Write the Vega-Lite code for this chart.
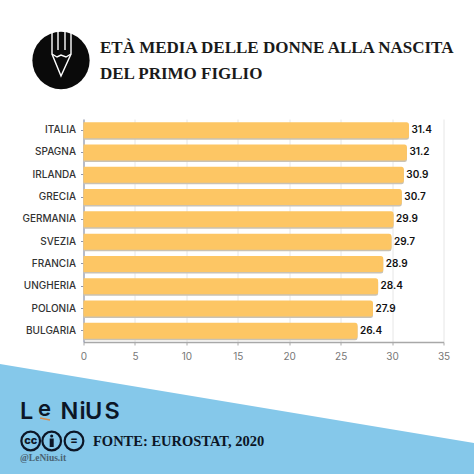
{"$schema":"https://vega.github.io/schema/vega-lite/v6.json","width":360,"height":223,"autosize":"none","padding":{"left":83.5,"top":119,"right":30.5,"bottom":132},"background":"#ffffff","title":{"text":["ETÀ MEDIA DELLE DONNE ALLA NASCITA","DEL PRIMO FIGLIO"],"anchor":"start","frame":"group","dx":16.5,"offset":-67,"baseline":"alphabetic","font":"Liberation Serif","fontSize":17,"fontWeight":"bold","color":"#1a1a1a","lineHeight":26.5},"config":{"view":{"stroke":null}},"resolve":{"scale":{"x":"independent","y":"independent"}},"layer":[{"encoding":{"x":{"field":"px","type":"quantitative","scale":{"domain":[83.5,443.5],"clamp":false,"nice":false,"zero":false},"axis":null},"y":{"field":"py","type":"quantitative","scale":{"domain":[342,119],"clamp":false,"nice":false,"zero":false},"axis":null}},"layer":[{"data":{"values":[{"px":0,"py":364,"bottom":474},{"px":474,"py":443,"bottom":474}]},"mark":{"type":"area","color":"#85C8EA","clip":false},"encoding":{"y2":{"field":"bottom"}}},{"data":{"values":[{"px":61,"py":60.5}]},"mark":{"type":"point","filled":true,"color":"#0a0a0a","size":3280,"opacity":1}},{"data":{"values":[{"g":"a","o":1,"px":52,"py":32},{"g":"a","o":2,"px":52,"py":54},{"g":"a","o":3,"px":61,"py":76},{"g":"a","o":4,"px":71,"py":54},{"g":"a","o":5,"px":71,"py":32},{"g":"b","o":1,"px":52,"py":54},{"g":"b","o":2,"px":57,"py":57},{"g":"b","o":3,"px":61,"py":55},{"g":"b","o":4,"px":66,"py":57},{"g":"b","o":5,"px":71,"py":54},{"g":"c","o":1,"px":58,"py":32},{"g":"c","o":2,"px":58,"py":50},{"g":"d","o":1,"px":65,"py":32},{"g":"d","o":2,"px":65,"py":50}]},"mark":{"type":"line","color":"#ffffff","strokeWidth":1.4},"encoding":{"detail":{"field":"g"},"order":{"field":"o"}}},{"data":{"values":[{"px":40,"py":418,"ex":50,"ey":420}]},"mark":{"type":"rule","color":"#d98a4b","strokeWidth":1.5},"encoding":{"x2":{"field":"ex"},"y2":{"field":"ey"}}},{"data":{"values":[{"t":"L","px":20,"py":418.5},{"t":"N","px":60.5,"py":418.5},{"t":"i","px":79.5,"py":418.5},{"t":"U","px":85,"py":418.5},{"t":"S","px":104.5,"py":418.5}]},"mark":{"type":"text","align":"left","baseline":"alphabetic","font":"Inter","fontWeight":600,"fontSize":23.5,"color":"#0c1626"},"encoding":{"text":{"field":"t"}}},{"data":{"values":[{"t":"e","px":38,"py":416}]},"mark":{"type":"text","align":"left","baseline":"alphabetic","font":"Inter","fontWeight":600,"fontSize":22,"color":"#0c1626"},"encoding":{"text":{"field":"t"}}},{"data":{"values":[{"px":30.7,"py":441},{"px":51.7,"py":441},{"px":74,"py":441}]},"mark":{"type":"point","filled":false,"color":"#0c1626","strokeWidth":2.2,"size":350,"opacity":1}},{"data":{"values":[{"t":"cc","px":30.7,"py":441},{"t":"=","px":74,"py":441}]},"mark":{"type":"text","align":"center","baseline":"middle","font":"Inter","fontWeight":800,"fontSize":11,"color":"#0c1626"},"encoding":{"text":{"field":"t"}}},{"data":{"values":[{"px":51.7,"py":436}]},"mark":{"type":"point","filled":true,"color":"#0c1626","size":10,"opacity":1}},{"data":{"values":[{"px":51.7,"py":438.5,"e":447}]},"mark":{"type":"rule","color":"#0c1626","strokeWidth":4},"encoding":{"y2":{"field":"e"}}},{"data":{"values":[{"t":"FONTE: EUROSTAT, 2020","px":93,"py":446}]},"mark":{"type":"text","align":"left","baseline":"alphabetic","font":"Liberation Serif","fontWeight":"bold","fontSize":14.5,"color":"#0c1626"},"encoding":{"text":{"field":"t"}}},{"data":{"values":[{"t":"@LeNius.it","px":20,"py":460.5}]},"mark":{"type":"text","align":"left","baseline":"alphabetic","font":"Liberation Serif","fontWeight":"bold","fontSize":9.5,"color":"#4a6272"},"encoding":{"text":{"field":"t"}}}]},{"data":{"values":[{"paese":"ITALIA","eta":31.4},{"paese":"SPAGNA","eta":31.2},{"paese":"IRLANDA","eta":30.9},{"paese":"GRECIA","eta":30.7},{"paese":"GERMANIA","eta":29.9},{"paese":"SVEZIA","eta":29.7},{"paese":"FRANCIA","eta":28.9},{"paese":"UNGHERIA","eta":28.4},{"paese":"POLONIA","eta":27.9},{"paese":"BULGARIA","eta":26.4}]},"encoding":{"y":{"field":"paese","type":"nominal","sort":null,"title":null,"scale":{"paddingInner":0.3,"paddingOuter":0.15},"axis":{"labelFont":"Inter","labelFontSize":10,"labelFontWeight":500,"labelColor":"#333333","tickColor":"#8f98b0","tickSize":3,"domainColor":"#8f98b0","domainWidth":1.2,"labelPadding":5,"grid":false}},"x":{"field":"eta","type":"quantitative","title":null,"scale":{"domain":[0,35],"nice":false},"axis":{"values":[0,5,10,15,20,25,30,35],"labelFlush":false,"labelFont":"Inter","labelFontSize":10,"labelColor":"#777777","labelPadding":6,"tickColor":"#aaaaaa","tickSize":3,"domainColor":"#a8a8a8","domainWidth":1.5,"grid":true,"gridColor":"#e6e6e6","gridWidth":1}}},"layer":[{"mark":{"type":"bar","color":"#c9c2b4","stroke":"#c9c2b4","strokeWidth":5,"strokeJoin":"round","height":11,"yOffset":1.5,"clip":true}},{"mark":{"type":"bar","color":"#FDC664","stroke":"#FDC664","strokeWidth":5,"strokeJoin":"round","height":11,"clip":true}},{"mark":{"type":"text","align":"left","baseline":"middle","dx":5,"font":"Inter","fontSize":10,"fontWeight":600,"color":"#111111"},"encoding":{"text":{"field":"eta","type":"quantitative","format":".1f"}}}]}]}
